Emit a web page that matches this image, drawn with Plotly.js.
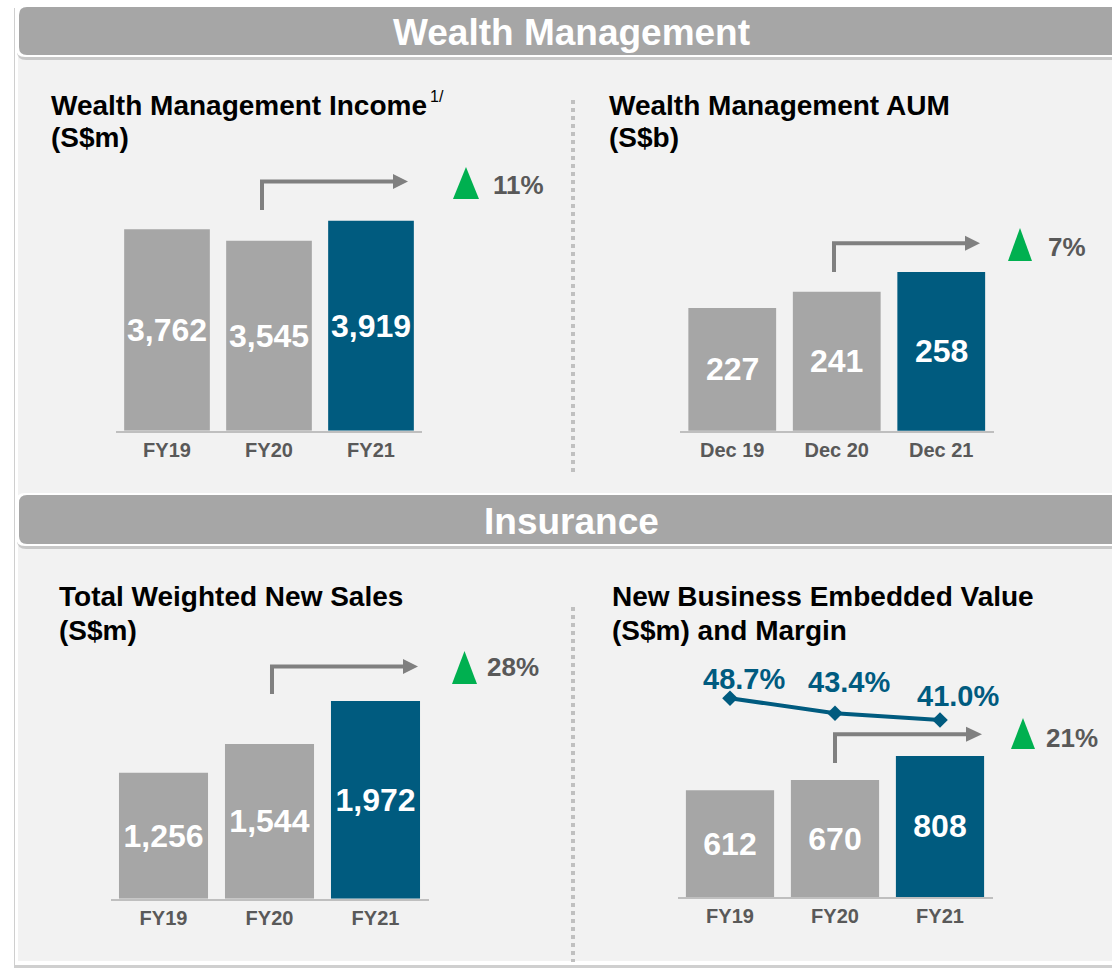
<!DOCTYPE html>
<html><head><meta charset="utf-8">
<script src="https://cdn.plot.ly/plotly-3.0.1.min.js"></script>
<style>html,body{margin:0;padding:0;background:#fff;} #chart{width:1112px;height:970px;}</style>
</head><body><div id="chart"></div>
<script>
// ---------- data ----------
const wmIncomeCategories = ['FY19','FY20','FY21'];
const wmIncomeValues = [3762,3545,3919];
const aumCategories = ['Dec 19','Dec 20','Dec 21'];
const aumValues = [227,241,258];
const salesCategories = ['FY19','FY20','FY21'];
const salesValues = [1256,1544,1972];
const nbevCategories = ['FY19','FY20','FY21'];
const nbevValues = [612,670,808];
const nbevMargins = [48.7,43.4,41.0];
const growthLabels = ['11%','7%','28%','21%'];
const sectionTitles = ['Wealth Management','Insurance'];
const chartTitles = [
  ['Wealth Management Income','(S$m)'],
  ['Wealth Management AUM','(S$b)'],
  ['Total Weighted New Sales','(S$m)'],
  ['New Business Embedded Value','(S$m) and Margin']
];

// ---------- helpers ----------
const W=1112,H=970;
const GREY='#a6a6a6', BLUE='#005b7f', ARROW='#808080', GREEN='#00b050', TXT='#595959';
const FONT='"Liberation Sans", Arial, sans-serif';
const X = p => p/W, Y = p => 1 - p/H;
const barColors = n => Array.from({length:n},(_,i)=> i===n-1?BLUE:GREY);
const LABEL_FONT = {family:FONT,size:32,color:'#ffffff',weight:'bold'};

function barTrace(cats, vals, ax, fmt){
  const t = {type:'bar', x:cats, y:vals, xaxis:'x'+ax, yaxis:'y'+ax, width:0.84,
    marker:{color:barColors(vals.length), line:{width:0}},
    hoverinfo:'skip', showlegend:false};
  if(fmt){
    Object.assign(t,{texttemplate:fmt, textposition:'inside', insidetextanchor:'middle',
      constraintext:'none', textangle:0, insidetextfont:LABEL_FONT});
  } else t.textposition='none';
  return t;
}
function xAx(p0,p1,anchor){
  return {domain:[X(p0),X(p1)], anchor, type:'category', range:[-0.5,2.5],
    showline:true, linecolor:'#bfbfbf', linewidth:2, showgrid:false, zeroline:false,
    ticks:'', ticklabelstandoff:0,
    tickfont:{family:FONT,size:20,color:TXT,weight:'bold'}, fixedrange:true};
}
function yAx(top,bottom,range,anchor){
  return {domain:[Y(bottom),Y(top)], anchor, range, visible:false, fixedrange:true};
}
function path(cmds){
  return cmds.map(c=>{
    if(c[0]==='Z') return 'Z';
    const out=[c[0]];
    for(let i=1;i<c.length;i+=2) out.push(X(c[i]).toFixed(5)+','+Y(c[i+1]).toFixed(5));
    return out.join(' ');
  }).join(' ');
}
function roundRect(x0,y0,x1,y1,r){
  return path([['M',x0+r,y0],['L',x1-r,y0],['Q',x1,y0,x1,y0+r],['L',x1,y1-r],['Q',x1,y1,x1-r,y1],
    ['L',x0+r,y1],['Q',x0,y1,x0,y1-r],['L',x0,y0+r],['Q',x0,y0,x0+r,y0],['Z']]);
}
function rect(x0,y0,x1,y1,fill){
  return {type:'rect',xref:'paper',yref:'paper',x0:X(x0),x1:X(x1),y0:Y(y1),y1:Y(y0),
    fillcolor:fill,line:{width:0},layer:'below'};
}
function pshape(p,fill,line,lw){
  return {type:'path',xref:'paper',yref:'paper',path:p,fillcolor:fill||'rgba(0,0,0,0)',
    line:{color:line||'rgba(0,0,0,0)',width:lw||0},layer:'below'};
}

const aumRange = [121.3,363.1];

// ---------- traces ----------
const traces = [
  barTrace(wmIncomeCategories, wmIncomeValues, '', '%{y:,}'),
  barTrace(aumCategories, aumValues, '2', null),
  barTrace(salesCategories, salesValues, '3', '%{y:,}'),
  barTrace(nbevCategories, nbevValues, '4', '%{y}'),
  {type:'scatter', mode:'lines+markers', x:nbevCategories, y:nbevMargins, xaxis:'x4', yaxis:'y5',
   line:{color:BLUE,width:4}, marker:{symbol:'diamond',size:12,color:BLUE},
   hoverinfo:'skip', showlegend:false, cliponaxis:false}
];

// ---------- decorations ----------
const shapes = [
  rect(14,8,1112,968,'#cfcfcf'),
  rect(15,6,1112,965,'#ffffff'),
  rect(18,9,1112,961,'#f2f2f2'),
];
[[5,57],[493,546]].forEach(([t,b])=>{
  shapes.push(pshape(roundRect(17,t+3,1130,b+3,9),'#c8c8c8'));
  shapes.push(pshape(roundRect(16,t,1130,b,9),'#ffffff'));
  shapes.push(pshape(roundRect(19,t+2,1130,b-2,8),GREY));
});
[[100,476],[607,962]].forEach(([a,b])=>{
  shapes.push({type:'line',xref:'paper',yref:'paper',x0:X(573),x1:X(573),y0:Y(a),y1:Y(b),
    line:{color:'#c0c0c0',width:4,dash:'dot'},layer:'below'});
});
const arrows = [
  {xv:262, yb:210, yh:181.5, base:393, tip:408, tri:[453,479,167,199], lx:491, ly:185},
  {xv:834, yb:272, yh:243.3, base:965, tip:980, tri:[1008,1032,228,261], lx:1046, ly:247},
  {xv:272, yb:694, yh:666.5, base:403, tip:418, tri:[452,477,651,684], lx:485, ly:667},
  {xv:835, yb:763, yh:734.3, base:966, tip:982, tri:[1011,1035,718,749], lx:1044, ly:738},
];
const annotations = [];
arrows.forEach((a,i)=>{
  shapes.push(pshape(path([['M',a.xv,a.yb],['L',a.xv,a.yh],['L',a.base+1,a.yh]]),null,ARROW,4));
  shapes.push(pshape(path([['M',a.base,a.yh-7.5],['L',a.tip,a.yh],['L',a.base,a.yh+7.5],['Z']]),ARROW));
  const [t0,t1,tt,tb]=a.tri;
  shapes.push(pshape(path([['M',t0,tb],['L',(t0+t1)/2,tt],['L',t1,tb],['Z']]),GREEN));
  annotations.push({xref:'paper',yref:'paper',x:X(a.lx),y:Y(a.ly),xanchor:'left',yanchor:'middle',
    text:growthLabels[i],showarrow:false,font:{family:FONT,size:26,color:TXT,weight:'bold'}});
});
[[33],[521]].forEach(([cy],i)=>{
  annotations.push({xref:'paper',yref:'paper',x:X(571),y:Y(cy),xanchor:'center',yanchor:'middle',
    text:sectionTitles[i],showarrow:false,font:{family:FONT,size:37,color:'#ffffff',weight:'bold'}});
});
const titlePos = [[49,105,138],[607,105,138],[57,596,630],[610,596,630]];
chartTitles.forEach((t,i)=>{
  const [x,y1,y2]=titlePos[i];
  [t[0],t[1]].forEach((s,j)=>{
    annotations.push({xref:'paper',yref:'paper',x:X(x),y:Y(j?y2:y1),xanchor:'left',yanchor:'middle',
      text:s,showarrow:false,font:{family:FONT,size:28,color:'#000000',weight:'bold'}});
  });
});
annotations.push({xref:'paper',yref:'paper',x:X(428),y:Y(97),xanchor:'left',yanchor:'middle',
  text:'1/',showarrow:false,font:{family:FONT,size:16,color:'#000000'}});
// AUM bar value labels (axis does not start at zero, so centre in the visible part)
aumValues.forEach((v,i)=>{
  annotations.push({xref:'x2',yref:'y2',x:aumCategories[i],y:(aumRange[0]+v)/2,
    xanchor:'center',yanchor:'middle',showarrow:false,text:String(v),font:LABEL_FONT});
});
const marginLabelShift = [[14,19],[14,31],[18,24]];
nbevMargins.forEach((m,i)=>{
  annotations.push({xref:'x4',yref:'y5',x:nbevCategories[i],y:m,xshift:marginLabelShift[i][0],
    yshift:marginLabelShift[i][1],xanchor:'center',yanchor:'middle',showarrow:false,
    text:m.toFixed(1)+'%',font:{family:FONT,size:29,color:BLUE,weight:'bold'}});
});

const layout = {
  width:W, height:H, margin:{l:0,r:0,t:0,b:0},
  paper_bgcolor:'#ffffff', plot_bgcolor:'rgba(0,0,0,0)',
  showlegend:false,
  xaxis: xAx(116,422,'y'),   yaxis: yAx(150,430.7,[0,5239],'x'),
  xaxis2:xAx(680,993.5,'y2'), yaxis2:yAx(150,430.7,aumRange,'x2'),
  xaxis3:xAx(110.5,428.5,'y3'), yaxis3:yAx(620,898.7,[0,2781],'x3'),
  xaxis4:xAx(677.5,992.5,'y4'), yaxis4:yAx(620,897,[0,1587],'x4'),
  yaxis5:{overlaying:'y4', anchor:'x4', range:[-21.77,76.46], visible:false, fixedrange:true},
  shapes, annotations
};
Plotly.newPlot('chart', traces, layout, {displayModeBar:false, staticPlot:true});
</script>
</body></html>
